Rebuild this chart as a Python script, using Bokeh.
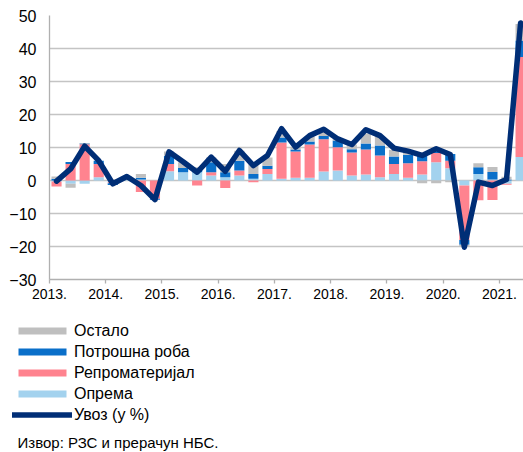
import numpy as np
from bokeh.plotting import figure
from bokeh.models import Range1d, FixedTicker, Legend, LegendItem, ColumnDataSource, Label
from bokeh.embed import file_html
from bokeh.resources import INLINE

# ---- data (quarterly, 2013 Q1 – 2021 Q2), contributions in p.p., import y/y in % ----
years = [2013, 2014, 2015, 2016, 2017, 2018, 2019, 2020, 2021]
year_labels = ["2013.", "2014.", "2015.", "2016.", "2017.", "2018.", "2019.", "2020.", "2021."]
y_ticks = [-30, -20, -10, 0, 10, 20, 30, 40, 50]

oprema = [-0.3, -1.0, -1.0, 1.0, -0.5, 0.3, 0.3, 0.0,
          2.8, 2.5, 2.5, 1.5, 1.0, 1.5, 0.5, 2.0,
          0.5, 0.8, 0.8, 2.7, 3.0, 1.5, 1.8, 1.0,
          2.0, 0.8, 1.8, 5.5, 3.7, -1.5, 2.0, 0.3,
          -1.0, 7.1]
repromaterijal = [-1.5, 5.0, 11.0, 4.0, -0.3, 0.5, -3.5, -5.5,
                  2.2, 0.0, -1.5, 1.0, -2.3, 1.5, -0.5, 1.5,
                  11.0, 8.0, 10.1, 9.8, 7.1, 7.0, 7.6, 6.6,
                  3.0, 4.4, 4.0, 2.8, 2.3, -16.5, -6.0, -5.9,
                  -0.3, 30.3]
potrosna = [0.5, 0.6, 0.2, 1.0, -0.6, 0.3, 0.5, -0.3,
            2.5, 1.3, 1.0, 3.0, 1.5, 3.0, 1.5, 1.0,
            1.5, 0.6, 0.9, 1.0, 2.0, 1.0, 1.8, 3.0,
            2.3, 2.6, 2.0, 0.5, 2.0, -1.5, 2.0, 2.3,
            0.3, 5.0]
ostalo = [0.7, -1.2, 0.2, 0.0, 0.3, 0.2, 1.2, 0.0,
          1.3, 1.7, 0.5, 1.5, 2.5, 3.0, 3.0, 2.5,
          2.0, 0.7, 1.5, 1.5, 0.5, 1.4, 3.0, 2.8,
          2.0, 1.0, -0.8, -0.8, -0.5, -0.5, 1.2, 1.5,
          0.8, 5.0]
uvoz = [-0.2, 3.5, 10.4, 6.0, -1.0, 1.2, -1.5, -5.8,
        8.7, 5.7, 2.5, 7.1, 2.8, 9.1, 4.5, 7.6,
        15.7, 10.1, 13.6, 15.5, 12.6, 10.9, 15.4, 13.6,
        9.8, 8.9, 7.6, 9.6, 7.9, -20.2, -0.5, -1.5,
        0.3, 47.7]

series_names = ["Опрема", "Репроматеријал", "Потрошна роба", "Остало"]
series_values = [oprema, repromaterijal, potrosna, ostalo]
series_colors = ["#A3D2EE", "#FF838F", "#0A6FC9", "#BFBFBF"]
line_name = "Увоз (у %)"
line_color = "#002E76"
source_text = "Извор: РЗС и прерачун НБС."

FONT = "Liberation Sans"

n = len(uvoz)
xq = years[0] + (np.arange(n) + 0.5) / 4.0

# ---------------- main chart ----------------
p = figure(width=523, height=305, output_backend="svg", toolbar_location=None,
           x_range=Range1d(2013, 2021.427), y_range=Range1d(-30, 50),
           min_border_left=49, min_border_right=0, min_border_top=15, min_border_bottom=26)
p.outline_line_color = None
p.background_fill_color = "white"
p.border_fill_color = "white"

pos_acc = np.zeros(n)
neg_acc = np.zeros(n)
for name, vals, col in zip(series_names, series_values, series_colors):
    v = np.array(vals, dtype=float)
    bottom = np.where(v >= 0, pos_acc, neg_acc + v)
    top = np.where(v >= 0, pos_acc + v, neg_acc)
    pos_acc = pos_acc + np.where(v >= 0, v, 0)
    neg_acc = neg_acc + np.where(v < 0, v, 0)
    src = ColumnDataSource(dict(x=xq, top=top, bottom=bottom))
    p.vbar(x="x", top="top", bottom="bottom", width=0.18, source=src,
           fill_color=col, line_color=None)

p.line(xq, uvoz, line_width=5.5, line_color=line_color,
       line_join="round", line_cap="round")

p.xgrid.visible = False
p.ygrid.grid_line_color = "#C4C4C4"
p.ygrid.grid_line_width = 1.3

p.xaxis.ticker = FixedTicker(ticks=years)
p.xaxis.major_label_overrides = {y: lab for y, lab in zip(years, year_labels)}
p.xaxis.minor_tick_line_color = None
p.xaxis.major_tick_in = 0
p.xaxis.major_tick_out = 4
p.xaxis.axis_line_color = "#B0B0B0"
p.xaxis.axis_line_width = 1.3
p.xaxis.major_tick_line_color = "#B0B0B0"
p.xaxis.major_tick_line_width = 1.3
p.xaxis.major_label_standoff = 5
p.xaxis.major_label_text_font = FONT
p.xaxis.major_label_text_font_size = "14px"
p.xaxis.major_label_text_color = "black"

p.yaxis.ticker = FixedTicker(ticks=y_ticks)
p.yaxis.minor_tick_line_color = None
p.yaxis.major_tick_in = 0
p.yaxis.major_tick_out = 0
p.yaxis.axis_line_color = "#B0B0B0"
p.yaxis.axis_line_width = 1.3
p.yaxis.major_label_standoff = 13
p.yaxis.major_label_text_font = FONT
p.yaxis.major_label_text_font_size = "16px"
p.yaxis.major_label_text_color = "black"

# ---------------- legend + source panel (separate root, frame = whole figure) ----------------
q = figure(width=523, height=147, output_backend="svg", toolbar_location=None,
           x_range=Range1d(0, 1), y_range=Range1d(0, 1),
           min_border_left=0, min_border_right=0, min_border_top=0, min_border_bottom=0)
q.axis.visible = False
q.grid.visible = False
q.outline_line_color = None
q.background_fill_color = "white"
q.border_fill_color = "white"

# legend-only proxy glyphs, kept outside the visible range
proxy = ColumnDataSource(dict(x=[5.0], top=[5.0], bottom=[4.0], y=[5.0]))
items = []
for name, col in reversed(list(zip(series_names, series_colors))):
    r = q.vbar(x="x", top="top", bottom="bottom", width=0.1, source=proxy,
               fill_color=col, line_color=None)
    items.append(LegendItem(label=name, renderers=[r]))
lr = q.line(x="x", y="y", source=proxy, line_width=5.5, line_color=line_color,
            line_cap="round")
items.append(LegendItem(label=line_name, renderers=[lr]))

legend = Legend(items=items, location=(12, 27), orientation="vertical",
                glyph_width=60, glyph_height=9, label_height=21, spacing=0,
                padding=0, margin=0, label_standoff=2,
                border_line_color=None, background_fill_alpha=0,
                label_text_font=FONT, label_text_font_size="16px",
                label_text_color="black")
q.add_layout(legend)

q.add_layout(Label(x=17, y=10, x_units="screen", y_units="screen",
                   text=source_text, text_font=FONT, text_font_size="15px",
                   text_color="black", text_baseline="middle", text_align="left"))

open("out.html", "w").write(file_html((p, q), INLINE))
